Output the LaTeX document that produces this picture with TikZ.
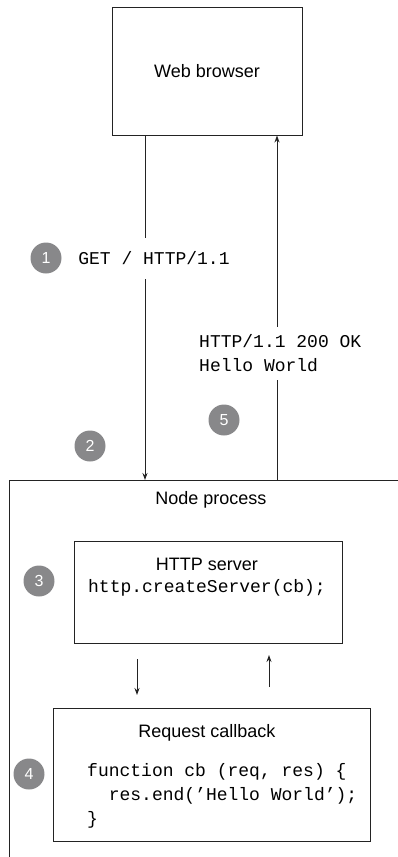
\documentclass[tikz,border=0pt]{standalone}
\usepackage{fontspec}
\setmainfont{Liberation Sans}
\setmonofont{Liberation Mono}
\usetikzlibrary{arrows.meta}
\definecolor{stepgray}{RGB}{136,136,138}
\definecolor{linecol}{RGB}{35,35,35}
\tikzset{
  box/.style={draw=linecol, line width=0.9pt, rectangle, inner sep=0pt},
  lbl/.style={font=\fontsize{18}{24}\selectfont, inner sep=0pt},
  code/.style={font=\fontsize{18}{24}\selectfont\ttfamily, inner sep=0pt},
  conn/.style={draw=linecol, line width=0.9pt, -{Stealth[length=7pt,width=5pt]}},
  stepnum/.style={circle, fill=stepgray, minimum size=31pt, inner sep=0pt,
    text=white, font=\fontsize{16}{16}\selectfont},
}
\begin{document}
\begin{tikzpicture}[x=1pt, y=-1pt]
\useasboundingbox (0,0) rectangle (398,857);

% Web browser
\node[box, minimum width=190pt, minimum height=128pt] (browser) at (207,71) {};
\node[lbl] (browsertext) at (browser.center) {Web browser};

% Node process frame (extends beyond the picture)
\coordinate (procnw) at (9,480);
\coordinate (procne) at (398,480);
\coordinate (procsw) at (9,857);
\draw[linecol, line width=0.9pt] (procne) -- (procnw) -- (procsw);
\node[lbl] (proctext) at (211,500) {Node process};
\coordinate (reqend) at (145,480);
\coordinate (resstart) at (277,480);

% Request / response connectors
\draw[conn] (browser.south -| reqend) -- (reqend);
\draw[conn] (resstart) -- (browser.south -| resstart);

% connector labels
\node[code, fill=white, minimum height=41pt, inner xsep=2pt] (getlbl) at (154,258.5) {GET / HTTP/1.1};
\node[code, fill=white, minimum height=53pt, inner xsep=2pt, align=left, anchor=west] (oklbl) at (197,353.5) {HTTP/1.1 200 OK\\Hello World};

% HTTP server
\node[box, minimum width=268pt, minimum height=102pt] (server) at (208,592) {};
\node[lbl] (servertitle) at (207,564) {HTTP server};
\node[code] (servercode) at (207,588) {http.createServer(cb);};

% Request callback
\node[box, minimum width=317pt, minimum height=133pt] (callback) at (211.5,774.5) {};
\node[lbl] (cbtitle) at (207,733) {Request callback};
\node[code, align=left, anchor=north west] (cbcode) at (87,763) {function cb (req, res) \{\\\ \ res.end(’Hello World’);\\\}};

% inner connectors
\coordinate (downstart) at (137,659);
\coordinate (downend) at (137,695);
\coordinate (upstart) at (269,687);
\coordinate (upend) at (269,655);
\draw[conn] (downstart) -- (downend);
\draw[conn] (upstart) -- (upend);

% step markers
\node[stepnum] (s1) at (46,258) {1};
\node[stepnum] (s2) at (90,446) {2};
\node[stepnum] (s3) at (39,581) {3};
\node[stepnum] (s4) at (29,774) {4};
\node[stepnum] (s5) at (224,420) {5};
\end{tikzpicture}
\end{document}
